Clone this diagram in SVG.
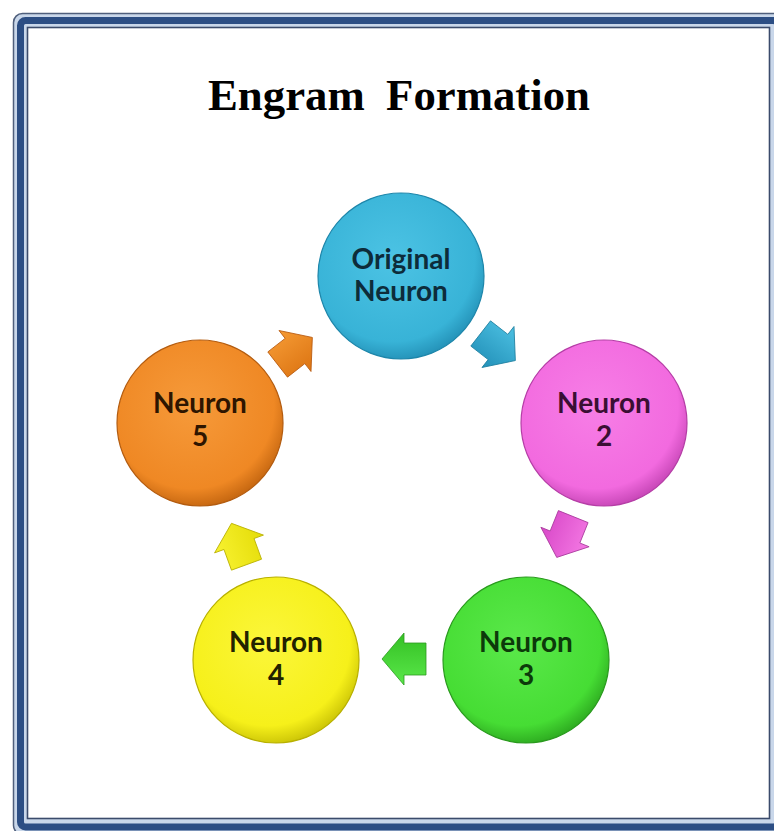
<svg xmlns="http://www.w3.org/2000/svg" width="774" height="831" viewBox="0 0 774 831">
<style>
.lbl{font-family:Lato,"Open Sans","Liberation Sans",sans-serif;font-weight:700;font-size:28px;text-anchor:middle}
.title{font-family:"Liberation Serif","Times New Roman",serif;font-weight:700;font-size:44px;word-spacing:10px;text-anchor:middle;fill:#000}
.rim{stroke-width:1.2}
</style>
<defs>
<radialGradient id="gC" cx="0.45" cy="0.4" r="0.62"><stop offset="0" stop-color="#4cc3e4"/><stop offset="0.8" stop-color="#38b3d7"/><stop offset="1" stop-color="#2390b6"/></radialGradient>
<radialGradient id="gP" cx="0.45" cy="0.4" r="0.62"><stop offset="0" stop-color="#f77ee6"/><stop offset="0.8" stop-color="#f26adf"/><stop offset="1" stop-color="#c444b4"/></radialGradient>
<radialGradient id="gG" cx="0.45" cy="0.4" r="0.62"><stop offset="0" stop-color="#5ae84a"/><stop offset="0.8" stop-color="#46dd34"/><stop offset="1" stop-color="#2ca81f"/></radialGradient>
<radialGradient id="gY" cx="0.45" cy="0.4" r="0.62"><stop offset="0" stop-color="#fbf63a"/><stop offset="0.8" stop-color="#f6f01a"/><stop offset="1" stop-color="#c9c205"/></radialGradient>
<radialGradient id="gO" cx="0.45" cy="0.4" r="0.62"><stop offset="0" stop-color="#f69a3a"/><stop offset="0.8" stop-color="#ef8824"/><stop offset="1" stop-color="#c2640f"/></radialGradient>
<linearGradient id="aC" x1="0" y1="0" x2="0" y2="1"><stop offset="0" stop-color="#4cc0e2"/><stop offset="1" stop-color="#2290b8"/></linearGradient>
<linearGradient id="aP" x1="0" y1="0" x2="0" y2="1"><stop offset="0" stop-color="#f57ae4"/><stop offset="1" stop-color="#d848c8"/></linearGradient>
<linearGradient id="aG" x1="0" y1="0" x2="0" y2="1"><stop offset="0" stop-color="#5ae84a"/><stop offset="1" stop-color="#34c024"/></linearGradient>
<linearGradient id="aY" x1="0" y1="0" x2="0" y2="1"><stop offset="0" stop-color="#f8f230"/><stop offset="1" stop-color="#e4dc08"/></linearGradient>
<linearGradient id="aO" x1="0" y1="0" x2="0" y2="1"><stop offset="0" stop-color="#f59a34"/><stop offset="1" stop-color="#dc7412"/></linearGradient>
<path id="arr" d="M-22,-16 L0,-16 L0,-26 L22,0 L0,26 L0,16 L-22,16 Z"/>
</defs>

<g id="frame">
<rect x="13.5" y="13.5" width="772" height="821" rx="9" fill="#c9d7ea" stroke="#4f5f7c" stroke-width="1.5"/>
<rect x="20.5" y="20.5" width="757.5" height="806.5" rx="5" fill="none" stroke="#2c4e84" stroke-width="7"/>
<rect x="27.5" y="27.5" width="742" height="791" fill="#ffffff" stroke="#3b4b6b" stroke-width="1.6"/>
</g>

<g id="title"><text class="title" x="399" y="110" textLength="382" lengthAdjust="spacingAndGlyphs">Engram Formation</text></g>

<g id="connectors">
<use href="#arr" fill="url(#aC)" stroke="#1f7f9f" stroke-width="0.8" transform="translate(498,347) rotate(38)"/>
<use href="#arr" fill="url(#aP)" stroke="#a83a9c" stroke-width="0.8" transform="translate(565,537) rotate(112)"/>
<use href="#arr" fill="url(#aG)" stroke="#2c9a20" stroke-width="0.8" transform="translate(404,659) rotate(180)"/>
<use href="#arr" fill="url(#aY)" stroke="#b8b000" stroke-width="0.8" transform="translate(239,544) rotate(250)"/>
<use href="#arr" fill="url(#aO)" stroke="#b85a10" stroke-width="0.8" transform="translate(295,351) rotate(322)"/>
</g>

<g id="original-neuron">
<circle cx="401" cy="276" r="83" fill="url(#gC)" stroke="#1e86aa" class="rim"/>
<text class="lbl" fill="#0d2c3a" x="401" y="269">Original</text>
<text class="lbl" fill="#0d2c3a" x="401" y="301">Neuron</text>
</g>
<g id="neuron-2">
<circle cx="604" cy="423" r="83" fill="url(#gP)" stroke="#b53ea6" class="rim"/>
<text class="lbl" fill="#3a0f33" x="604" y="413">Neuron</text>
<text class="lbl" fill="#3a0f33" x="604" y="446">2</text>
</g>
<g id="neuron-3">
<circle cx="526" cy="660" r="83" fill="url(#gG)" stroke="#2a9a1e" class="rim"/>
<text class="lbl" fill="#0c3a0a" x="526" y="652">Neuron</text>
<text class="lbl" fill="#0c3a0a" x="526" y="685">3</text>
</g>
<g id="neuron-4">
<circle cx="276" cy="660" r="83" fill="url(#gY)" stroke="#b8b000" class="rim"/>
<text class="lbl" fill="#222200" x="276" y="652">Neuron</text>
<text class="lbl" fill="#222200" x="276" y="685">4</text>
</g>
<g id="neuron-5">
<circle cx="200" cy="423" r="83" fill="url(#gO)" stroke="#b35c10" class="rim"/>
<text class="lbl" fill="#2e1500" x="200" y="413">Neuron</text>
<text class="lbl" fill="#2e1500" x="200" y="446">5</text>
</g>
</svg>
